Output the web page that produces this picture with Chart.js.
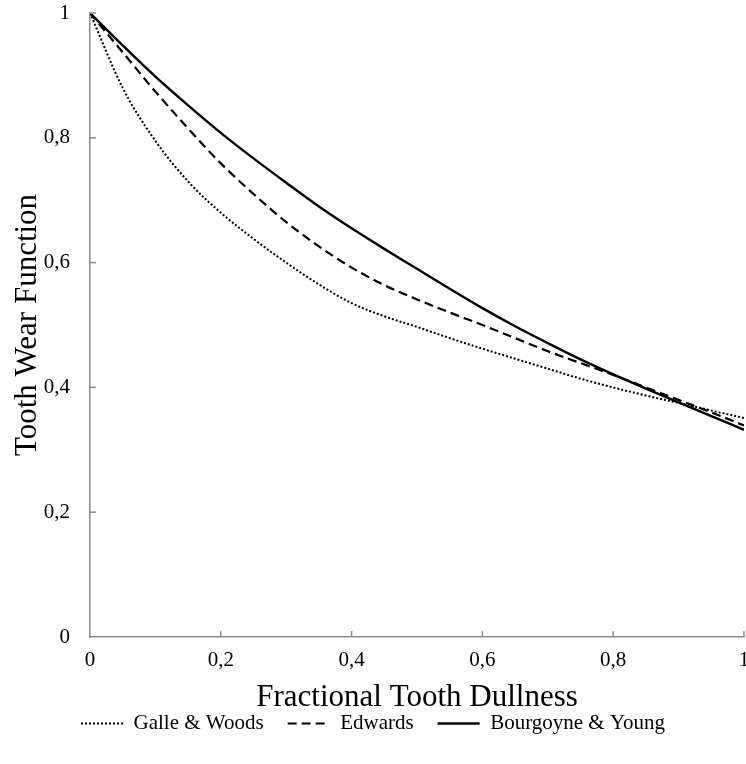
<!DOCTYPE html>
<html>
<head>
<meta charset="utf-8">
<script src="https://cdn.jsdelivr.net/npm/chart.js@4.4.1/dist/chart.umd.min.js"></script>
<style>
  html, body { margin:0; padding:0; background:#fff; overflow:hidden; }
  #wrap { width:746px; height:764px; position:relative; }
  canvas { display:block; }
</style>
</head>
<body>
<div id="wrap"><canvas id="toothChart"></canvas></div>
<script>
/* dullness values along x */
let dullness = [0, 0.05, 0.1, 0.15, 0.2, 0.25, 0.3, 0.35, 0.4, 0.45, 0.5, 0.55, 0.6, 0.65, 0.7, 0.75, 0.8, 0.85, 0.9, 0.95, 1];
/* tooth wear function */
let galleWoods = [1, 0.88, 0.795, 0.73, 0.68, 0.638, 0.6, 0.565, 0.535, 0.514, 0.497, 0.479, 0.462, 0.446, 0.43, 0.414, 0.4, 0.387, 0.375, 0.363, 0.351];
let edwards = [1, 0.937, 0.874, 0.815, 0.759, 0.71, 0.665, 0.626, 0.592, 0.564, 0.541, 0.52, 0.5, 0.479, 0.458, 0.439, 0.42, 0.4, 0.38, 0.36, 0.339];
let bourgoyneYoung = [1, 0.948, 0.898, 0.852, 0.808, 0.767, 0.728, 0.69, 0.655, 0.622, 0.59, 0.558, 0.527, 0.498, 0.471, 0.445, 0.421, 0.398, 0.376, 0.354, 0.332];
let tickValues = [0, 0.2, 0.4, 0.6, 0.8, 1];

function pts(ys) {
    return dullness.map((d, i) => ({x: d, y: ys[i]}));
}
function comma(v) {
    return String(Math.round(v * 10) / 10).replace('.', ',');
}

// small tick marks pointing into the plot
const innerTicks = {
    id: 'innerTicks',
    afterDraw(chart) {
        const ctx = chart.ctx;
        const xs = chart.scales.x, ys = chart.scales.y;
        ctx.save();
        ctx.strokeStyle = '#8c8c8c';
        ctx.lineWidth = 1.5;
        tickValues.forEach(v => {
            if (v === 0) return;
            let px = xs.getPixelForValue(v);
            ctx.beginPath();
            ctx.moveTo(px, ys.bottom);
            ctx.lineTo(px, ys.bottom - 6);
            ctx.stroke();
            let py = ys.getPixelForValue(v);
            ctx.beginPath();
            ctx.moveTo(xs.left, py);
            ctx.lineTo(xs.left + 6, py);
            ctx.stroke();
        });
        ctx.restore();
    }
};

const serif = "'Liberation Serif', 'Times New Roman', serif";

let myChart = new Chart(document.getElementById('toothChart').getContext('2d'), {
    type: 'line',
    data: {
        datasets: [{
            label: 'Galle & Woods',
            data: pts(galleWoods),
            borderColor: '#000',
            backgroundColor: 'transparent',
            borderWidth: 2,
            borderDash: [2, 2],
            pointRadius: 0,
            cubicInterpolationMode: 'monotone'
        }, {
            label: 'Edwards',
            data: pts(edwards),
            borderColor: '#000',
            backgroundColor: 'transparent',
            borderWidth: 2.2,
            borderDash: [9, 5],
            pointRadius: 0,
            cubicInterpolationMode: 'monotone'
        }, {
            label: 'Bourgoyne & Young',
            data: pts(bourgoyneYoung),
            borderColor: '#000',
            backgroundColor: 'transparent',
            borderWidth: 2.4,
            pointRadius: 0,
            cubicInterpolationMode: 'monotone'
        }]
    },
    options: {
        responsive: true,
        maintainAspectRatio: false,
        animation: false,
        layout: { padding: { top: 13, right: 0, left: 0, bottom: 20 } },
        plugins: {
            tooltip: { enabled: false },
            legend: {
                position: 'bottom',
                labels: {
                    usePointStyle: true,
                    pointStyle: 'line',
                    pointStyleWidth: 42,
                    boxHeight: 12,
                    padding: 24,
                    color: '#000',
                    font: { family: serif, size: 21 },
                    generateLabels: chart => {
                        let items = Chart.defaults.plugins.legend.labels.generateLabels(chart);
                        items.forEach((it, i) => {
                            it.lineDash = chart.data.datasets[i].borderDash || [];
                            it.lineWidth = chart.data.datasets[i].borderWidth;
                        });
                        return items;
                    }
                }
            }
        },
        scales: {
            x: {
                type: 'linear',
                min: 0, max: 1,
                afterBuildTicks: s => { s.ticks = tickValues.map(v => ({value: v})); },
                afterFit: s => { s.paddingRight = 2; s.height = 52; },
                ticks: { callback: comma, color: '#000', padding: 11, maxRotation: 0, font: { family: serif, size: 21 } },
                grid: { drawOnChartArea: false, drawTicks: false },
                border: { color: '#8c8c8c', width: 1.5 },
                title: { display: true, text: 'Fractional Tooth Dullness', color: '#000', padding: { top: 0, bottom: -27 }, font: { family: serif, size: 31 } }
            },
            y: {
                min: 0, max: 1,
                afterBuildTicks: s => { s.ticks = tickValues.map(v => ({value: v})); },
                afterFit: s => { s.width = 90; s.paddingTop = 0; s.paddingBottom = 0; },
                ticks: { callback: comma, color: '#000', padding: 20, font: { family: serif, size: 21 } },
                grid: { drawOnChartArea: false, drawTicks: false },
                border: { color: '#8c8c8c', width: 1.5 },
                title: { display: true, text: 'Tooth Wear Function', color: '#000', padding: { top: 9, bottom: 1 }, font: { family: serif, size: 31 } }
            }
        }
    },
    plugins: [innerTicks]
});
</script>
</body>
</html>
